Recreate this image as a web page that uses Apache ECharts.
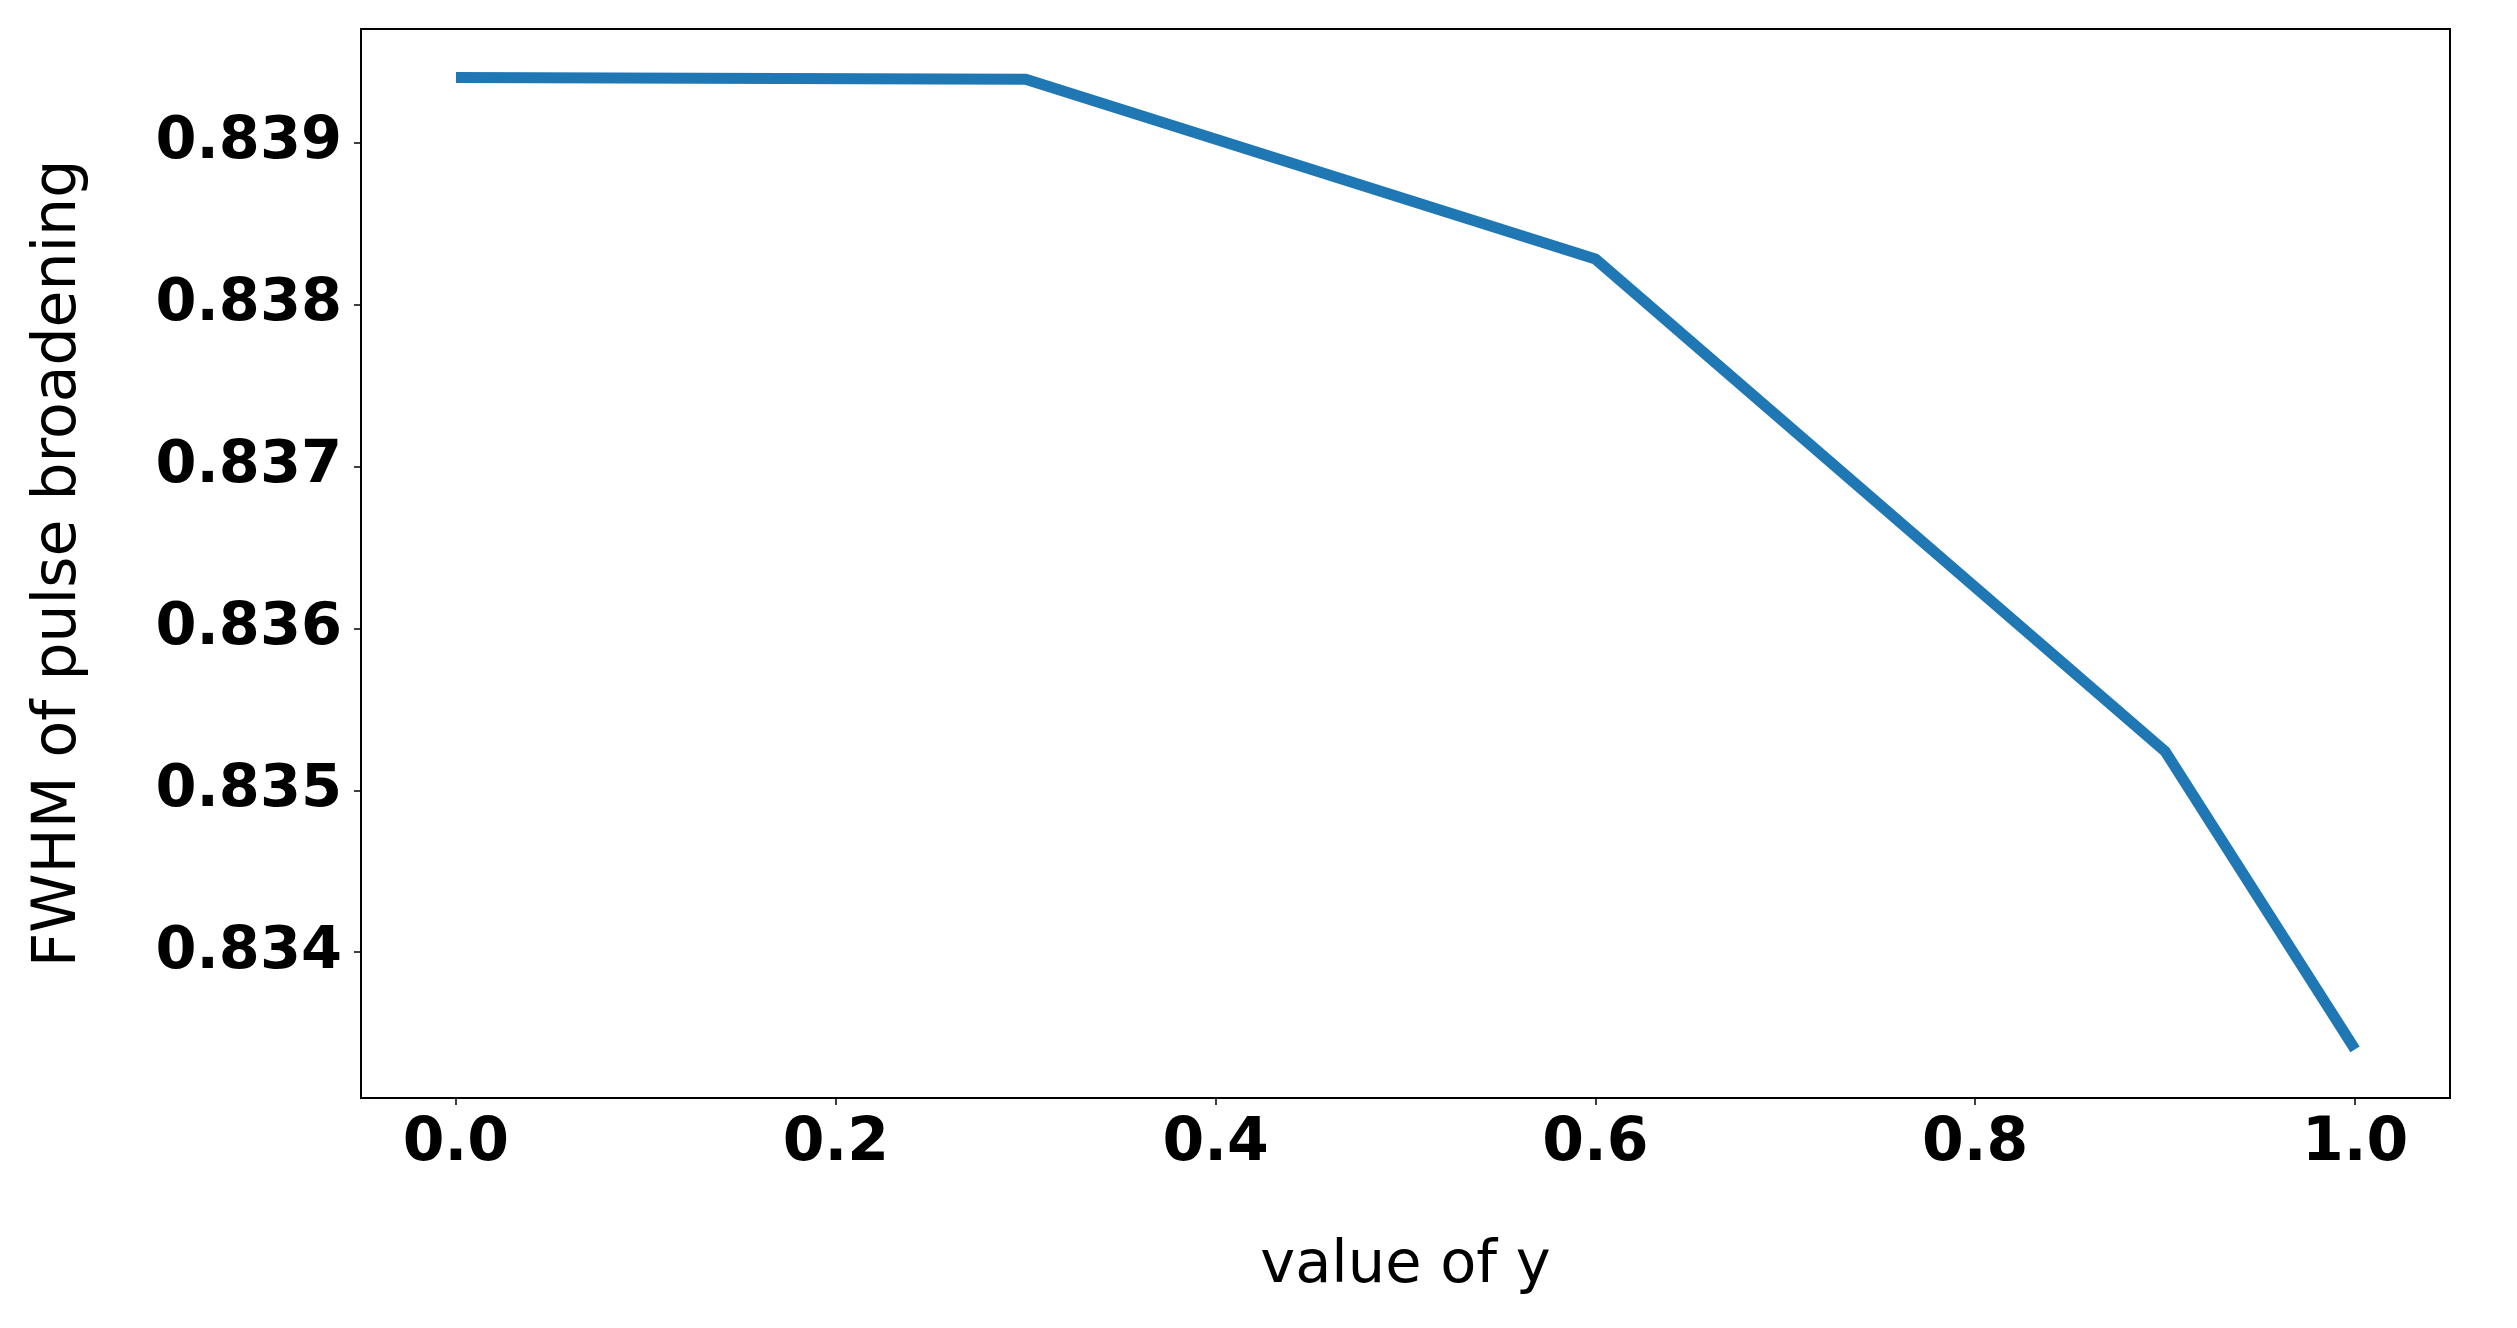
<!DOCTYPE html>
<html>
<head>
<meta charset="utf-8">
<script src="https://cdn.jsdelivr.net/npm/echarts@6/dist/echarts.min.js"></script>
<style>
  html, body { margin: 0; padding: 0; background: #fff; }
  #graph { width: 2517px; height: 1328px; }
</style>
</head>
<body>
<div id="graph"></div>
<script>
"use strict"

// values
const yValues = [0.0, 0.3, 0.6, 0.9, 1.0];
const fwhm = [0.83940, 0.83939, 0.83828, 0.83524, 0.83340];
const xTicks = [0.0, 0.2, 0.4, 0.6, 0.8, 1.0];
const yTicks = [0.834, 0.835, 0.836, 0.837, 0.838, 0.839];

const font = "DejaVu Sans";

const myChart = echarts.init(document.getElementById("graph"), null, { renderer: "canvas" });

const option = {
    backgroundColor: "#fff",
    animation: false,
    grid: {
        left: 361, right: 67, top: 29, bottom: 230,
        show: true, borderColor: "#000", borderWidth: 2, backgroundColor: "transparent"
    },
    xAxis: {
        type: "value",
        min: -0.05,
        max: 1.05,
        name: "value of y",
        nameLocation: "middle",
        nameGap: 139,
        nameTextStyle: { fontFamily: font, fontSize: 59, color: "#000" },
        axisLine: { show: true, onZero: false, lineStyle: { color: "#000", width: 2 } },
        axisTick: { show: true, length: 7, customValues: xTicks, lineStyle: { color: "#000", width: 1.5 } },
        axisLabel: {
            customValues: xTicks,
            margin: 16,
            fontFamily: font, fontWeight: "bold", fontSize: 60, color: "#000",
            formatter: v => v.toFixed(1)
        },
        splitLine: { show: false }
    },
    yAxis: {
        type: "value",
        min: 0.8331,
        max: 0.8397,
        name: "FWHM of pulse broadening",
        nameLocation: "middle",
        nameGap: 272,
        nameTextStyle: { fontFamily: font, fontSize: 60, color: "#000" },
        axisLine: { show: true, onZero: false, lineStyle: { color: "#000", width: 2 } },
        axisTick: { show: true, length: 7, customValues: yTicks, lineStyle: { color: "#000", width: 1.5 } },
        axisLabel: {
            customValues: yTicks,
            margin: 19,
            fontFamily: font, fontWeight: "bold", fontSize: 59, color: "#000",
            formatter: v => v.toFixed(3)
        },
        splitLine: { show: false }
    },
    series: [{
        type: "line",
        data: yValues.map((x, i) => [x, fwhm[i]]),
        showSymbol: false,
        lineStyle: { color: "#1f77b4", width: 11, cap: "butt", join: "round" }
    }]
};
myChart.setOption(option);
</script>
</body>
</html>
